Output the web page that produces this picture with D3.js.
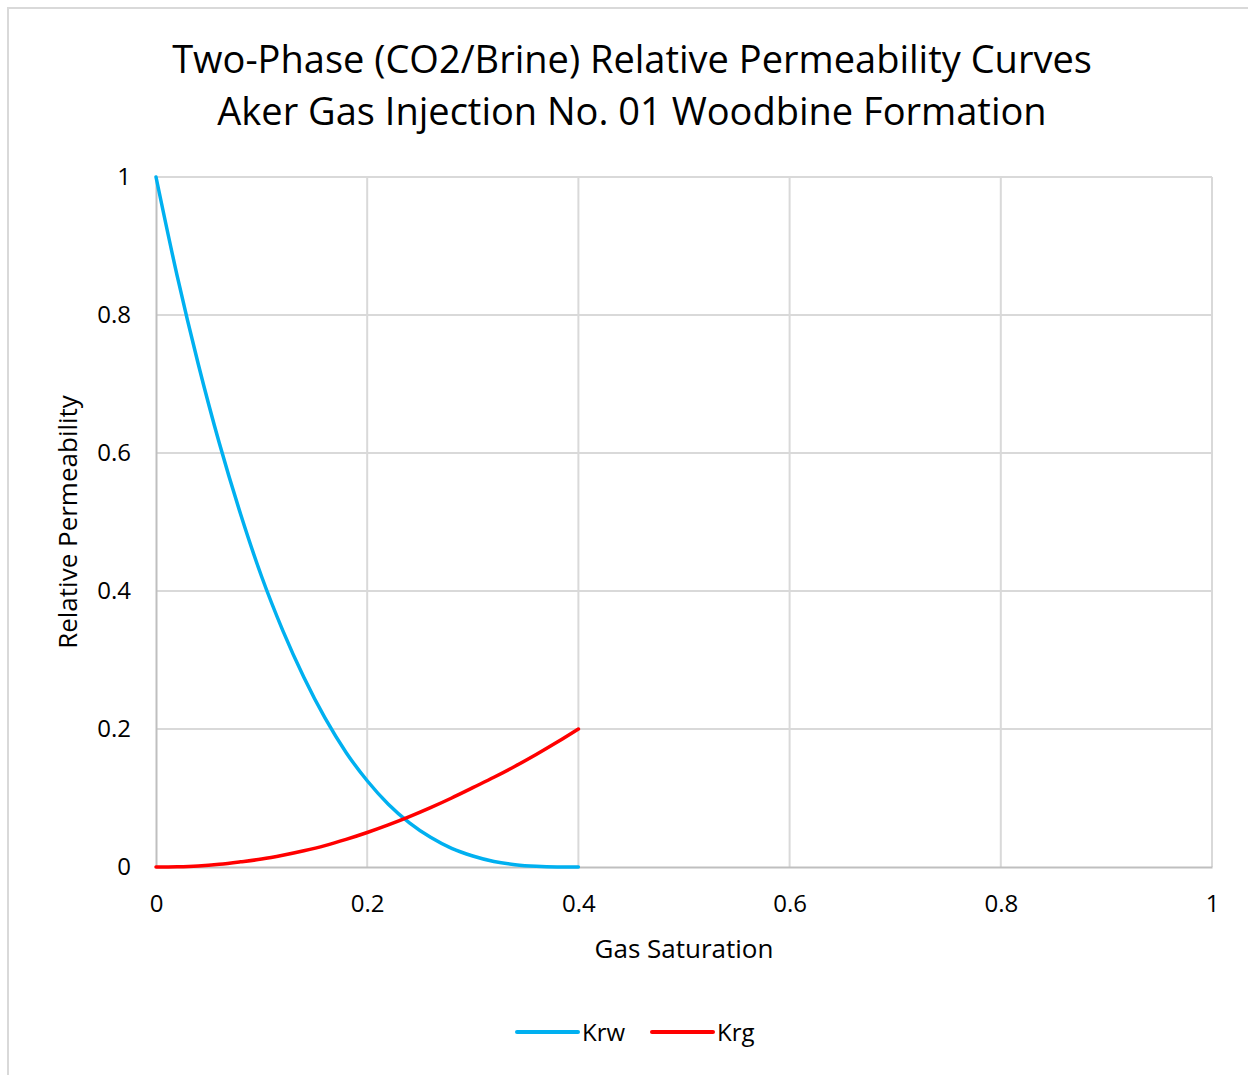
<!DOCTYPE html>
<html><head><meta charset="utf-8">
<script src="https://cdn.jsdelivr.net/npm/d3@7"></script>
<style>body{margin:0;background:#fff}svg{display:block}text{font-family:"Open Sans",sans-serif;fill:#000}</style>
</head><body><svg id="c" width="1248" height="1075"></svg>
<script>
const gasSat = [0,0.02,0.04,0.06,0.08,0.10,0.12,0.14,0.16,0.18,0.20,0.22,0.24,0.26,0.28,0.30,0.32,0.34,0.36,0.38,0.40];
const krw = [1,0.857,0.729,0.614,0.512,0.421,0.343,0.275,0.216,0.166,0.125,0.091,0.064,0.043,0.027,0.016,0.008,0.0034,0.001,0.0001,0];
const krg = [0,0.0004,0.0016,0.004,0.0075,0.0115,0.017,0.0235,0.031,0.040,0.050,0.061,0.073,0.086,0.100,0.115,0.130,0.146,0.163,0.181,0.200];
const xTicks = [0,0.2,0.4,0.6,0.8,1];
const yTicks = [0,0.2,0.4,0.6,0.8,1];
const seriesNames = ["Krw","Krg"];
const seriesColors = ["#00b0f0","#ff0000"];
const titleLines = ["Two-Phase (CO2/Brine) Relative Permeability Curves","Aker Gas Injection No. 01 Woodbine Formation"];

const svg = d3.select("#c");
svg.append("rect").attr("x",8).attr("y",8).attr("width",1260).attr("height",1090)
  .attr("fill","#fff").attr("stroke","#d9d9d9").attr("stroke-width",2);

const x = d3.scaleLinear().domain([0,1]).range([156,1212]);
const y = d3.scaleLinear().domain([0,1]).range([867,177]);

// gridlines
svg.append("g").selectAll("line").data(yTicks.filter(d=>d>0)).join("line")
  .attr("x1",x(0)).attr("x2",x(1)).attr("y1",d=>y(d)).attr("y2",d=>y(d))
  .attr("stroke","#d9d9d9").attr("stroke-width",2);
svg.append("g").selectAll("line").data(xTicks.filter(d=>d>0)).join("line")
  .attr("y1",y(0)).attr("y2",y(1)).attr("x1",d=>x(d)).attr("x2",d=>x(d))
  .attr("stroke","#d9d9d9").attr("stroke-width",2);

// axes
const xAxis = svg.append("g").attr("transform",`translate(0,${y(0)})`)
  .call(d3.axisBottom(x).tickValues(xTicks).tickFormat(d3.format("~g")).tickSize(0).tickPadding(37));
const yAxis = svg.append("g").attr("transform",`translate(${x(0)},0)`)
  .call(d3.axisLeft(y).tickValues(yTicks).tickFormat(d3.format("~g")).tickSize(0).tickPadding(25));
[xAxis,yAxis].forEach(a=>{
  a.select(".domain").attr("stroke","#bfbfbf").attr("stroke-width",2);
  a.selectAll("text").attr("font-size",24).attr("font-family","'Open Sans',sans-serif").attr("fill","#222");
});
xAxis.selectAll("text").attr("dy","0.35em");

// lines
const series = [krw,krg];
series.forEach((vals,i)=>{
  const line = d3.line().x((d,j)=>x(gasSat[j])).y(d=>y(d)).curve(d3.curveMonotoneX);
  svg.append("path").datum(vals).attr("d",line).attr("fill","none")
    .attr("stroke",seriesColors[i]).attr("stroke-width",3.5).attr("stroke-linecap","round");
});

// titles
svg.append("g").selectAll("text").data(titleLines).join("text")
  .attr("x",632).attr("y",(d,i)=>73+i*52).attr("text-anchor","middle")
  .attr("font-size",38).attr("fill","#111").text(d=>d);
svg.append("text").attr("x",684).attr("y",958).attr("text-anchor","middle")
  .attr("font-size",26).attr("fill","#222").text("Gas Saturation");
svg.append("text").attr("transform","translate(77,522) rotate(-90)").attr("text-anchor","middle")
  .attr("font-size",26).attr("fill","#222").text("Relative Permeability");

// legend
const lg = svg.append("g");
const lx = [517,652];
seriesNames.forEach((n,i)=>{
  lg.append("line").attr("x1",lx[i]).attr("x2",lx[i]+61).attr("y1",1032).attr("y2",1032)
    .attr("stroke",seriesColors[i]).attr("stroke-width",4).attr("stroke-linecap","round");
  lg.append("text").attr("x",lx[i]+65).attr("y",1041).attr("font-size",24).attr("fill","#222").text(n);
});
</script></body></html>
